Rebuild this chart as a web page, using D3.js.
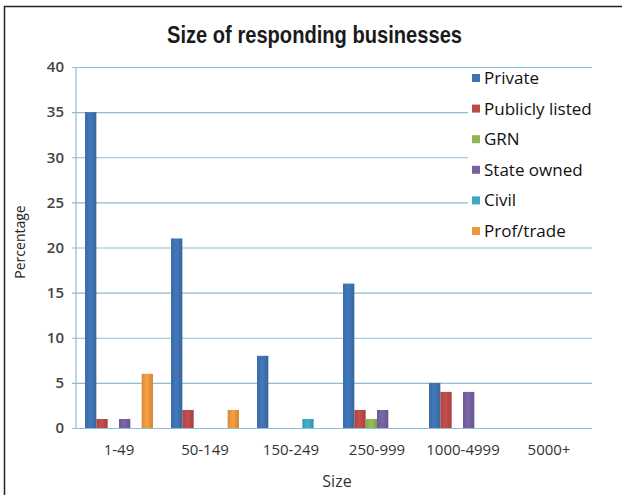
<!DOCTYPE html>
<html>
<head>
<meta charset="utf-8">
<script src="https://cdn.jsdelivr.net/npm/d3@7"></script>
<style>
  html, body { margin: 0; padding: 0; background: #fff; }
  svg { display: block; }
</style>
</head>
<body>
<div id="chart"></div>
<script>
// Survey responses by business size, in percent of respondents
const categories = ["1-49", "50-149", "150-249", "250-999", "1000-4999", "5000+"];
const seriesNames = ["Private", "Publicly listed", "GRN", "State owned", "Civil", "Prof/trade"];
const privateVals   = [35, 21, 8, 16, 5, 0];
const publicVals    = [1, 2, 0, 2, 4, 0];
const grnVals       = [0, 0, 0, 1, 0, 0];
const stateVals     = [1, 0, 0, 2, 4, 0];
const civilVals     = [0, 0, 1, 0, 0, 0];
const profVals      = [6, 2, 0, 0, 0, 0];
const yTicks = [0, 5, 10, 15, 20, 25, 30, 35, 40];
const colors = ["#3f73b2", "#bb4b48", "#8fb555", "#7661a1", "#3ca9c3", "#eb983f"];

const seriesVals = [privateVals, publicVals, grnVals, stateVals, civilVals, profVals];

const W = 622, H = 495;
const plotL = 76, plotR = 592, plotT = 67, plotB = 428;

const svg = d3.select("#chart").append("svg")
  .attr("width", W).attr("height", H);

// Outer frame
svg.append("rect")
  .attr("x", 4.5).attr("y", 6.5)
  .attr("width", 640).attr("height", 520)
  .attr("fill", "#fff").attr("stroke", "#222").attr("stroke-width", 1.5);

// Title, set in a condensed bold face
svg.append("text")
  .attr("x", 167).attr("y", 43)
  .attr("textLength", 295)
  .attr("lengthAdjust", "spacingAndGlyphs")
  .style("font-family", "'Liberation Sans', Arial, sans-serif")
  .style("font-weight", "bold")
  .style("font-size", "24px")
  .attr("fill", "#1a1a1a")
  .text("Size of responding businesses");

const x0 = d3.scaleBand().domain(categories)
  .range([plotL, plotR]).paddingInner(0.21).paddingOuter(0.105);
const x1 = d3.scaleBand().domain(seriesNames)
  .range([0, x0.bandwidth()]).padding(0);
const y = d3.scaleLinear().domain([0, 40]).range([plotB, plotT]);

// Gradients for bar shading
const defs = svg.append("defs");
colors.forEach((c, i) => {
  const g = defs.append("linearGradient").attr("id", "g" + i)
    .attr("x1", "0").attr("x2", "1").attr("y1", "0").attr("y2", "0");
  g.append("stop").attr("offset", "0").attr("stop-color", d3.color(c).darker(0.25));
  g.append("stop").attr("offset", "0.45").attr("stop-color", d3.color(c).brighter(0.15));
  g.append("stop").attr("offset", "1").attr("stop-color", d3.color(c).darker(0.35));
});

// Gridlines and y axis
const yAxis = d3.axisLeft(y).tickValues(yTicks).tickSize(0).tickPadding(12);
const gy = svg.append("g").attr("transform", `translate(${plotL},0)`).call(yAxis);
gy.select(".domain").remove();
gy.selectAll(".tick line")
  .attr("x1", -4)
  .attr("x2", plotR - plotL)
  .attr("stroke", "#8dbdd2").attr("stroke-width", 1.2);
gy.selectAll(".tick text")
  .style("font-family", "'Open Sans', sans-serif")
  .style("font-size", "15px")
  .style("font-weight", "600")
  .attr("fill", "#444");

// Vertical axis line
svg.append("line")
  .attr("x1", plotL).attr("x2", plotL)
  .attr("y1", plotT).attr("y2", plotB)
  .attr("stroke", "#8dbdd2").attr("stroke-width", 1.2);

// Bars
const groups = svg.append("g").selectAll("g")
  .data(categories).join("g")
  .attr("transform", d => `translate(${x0(d)},0)`);
groups.selectAll("rect")
  .data((c, ci) => seriesNames.map((s, si) => ({ s, si, v: seriesVals[si][ci] })).filter(d => d.v > 0))
  .join("rect")
  .attr("x", d => x1(d.s))
  .attr("width", x1.bandwidth())
  .attr("y", d => y(d.v))
  .attr("height", d => y(0) - y(d.v))
  .attr("fill", d => `url(#g${d.si})`);

// Category axis
const xAxis = d3.axisBottom(x0).tickSize(0).tickPadding(16);
const gx = svg.append("g").attr("transform", `translate(0,${plotB})`).call(xAxis);
gx.select(".domain").remove();
gx.selectAll(".tick text")
  .style("font-family", "'Open Sans', sans-serif")
  .style("font-size", "15px")
  .attr("fill", "#333");

// Axis titles
svg.append("text")
  .attr("x", 337).attr("y", 487)
  .attr("text-anchor", "middle")
  .style("font-family", "'Open Sans', sans-serif")
  .style("font-size", "16px")
  .attr("fill", "#333")
  .text("Size");
svg.append("text")
  .attr("transform", "translate(25,242) rotate(-90)")
  .attr("text-anchor", "middle")
  .style("font-family", "'Open Sans', sans-serif")
  .style("font-size", "14px")
  .attr("fill", "#222")
  .text("Percentage");

// Legend
const legend = svg.append("g");
legend.append("rect")
  .attr("x", 468).attr("y", 69)
  .attr("width", plotR - 468 + 2).attr("height", 177)
  .attr("fill", "#fff");
const items = legend.selectAll("g").data(seriesNames).join("g")
  .attr("transform", (d, i) => `translate(472,${78 + i * 30.6})`);
items.append("rect")
  .attr("x", 0).attr("y", -4).attr("width", 8).attr("height", 8)
  .attr("fill", (d, i) => colors[i]);
items.append("text")
  .attr("x", 12).attr("y", 0).attr("dy", "0.35em")
  .style("font-family", "'Open Sans', sans-serif")
  .style("font-size", "17px")
  .attr("fill", "#111")
  .text(d => d);
</script>
</body>
</html>
